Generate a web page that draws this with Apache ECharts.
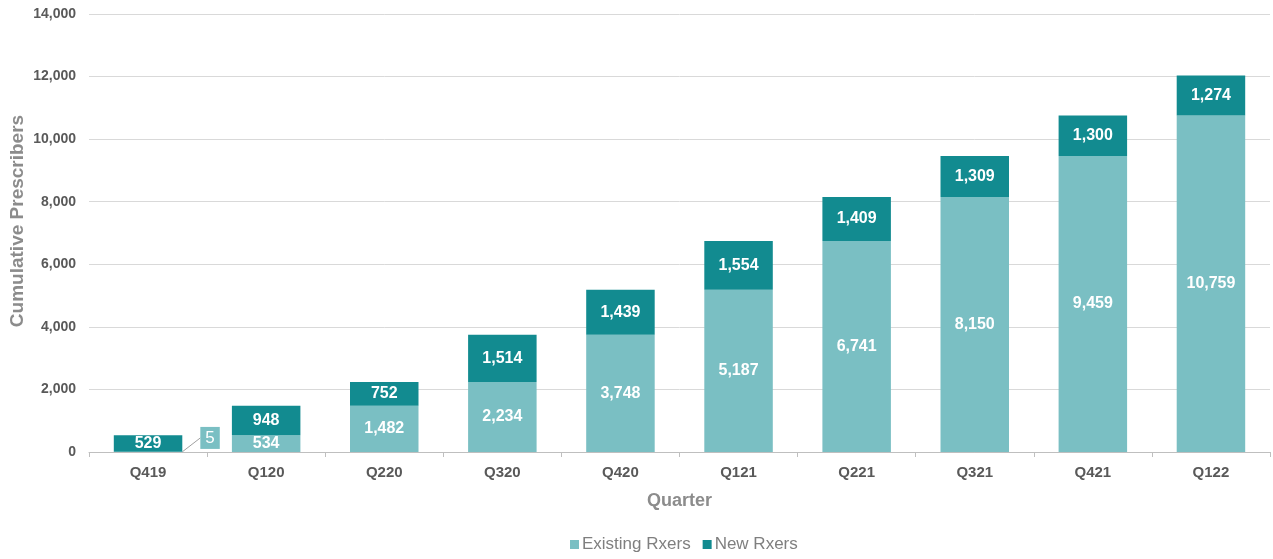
<!DOCTYPE html>
<html><head><meta charset="utf-8">
<script src="https://cdn.jsdelivr.net/npm/echarts@6/dist/echarts.min.js"></script>
<style>html,body{margin:0;padding:0;background:#fff}#c{width:1273px;height:559px}</style>
</head><body><div id="c"></div>
<script>
const quarters = ['Q419','Q120','Q220','Q320','Q420','Q121','Q221','Q321','Q421','Q122'];
const existingRxers = [5,534,1482,2234,3748,5187,6741,8150,9459,10759];
const newRxers = [529,948,752,1514,1439,1554,1409,1309,1300,1274];
const yTicks = {min:0, max:14000, interval:2000};

const FF = 'Liberation Sans, Arial, sans-serif';
const fmt = v => Number(v).toLocaleString('en-US');
const chart = echarts.init(document.getElementById('c'));
const labelBase = {show:true, position:'inside', color:'#fff', fontWeight:'bold', fontSize:16, fontFamily:FF, formatter:p=>fmt(p.value)};
const existingData = existingRxers.map((v,i)=> i===0 ? {
  value:v,
  label:{show:true, position:'inside', backgroundColor:'#7ABFC3', color:'#fff', padding:[3,5,2,5], fontSize:17, fontWeight:'normal'},
  labelLine:{show:true, lineStyle:{color:'#a0a0a0', width:1}}
} : v);
chart.setOption({
  animation:false,
  textStyle:{fontFamily:FF},
  grid:{left:89, right:3, top:14, bottom:107, outerBoundsMode:'none', containLabel:false},
  legend:{bottom:1, left:565, itemWidth:9, itemHeight:9, itemGap:12,
    icon:'rect', textStyle:{color:'#7f7f7f', fontSize:17, padding:[0,0,0,-2]}, data:['Existing Rxers','New Rxers']},
  graphic:[{type:'text', x:18, y:221, rotation:Math.PI/2,
    style:{text:'Cumulative Prescribers', fill:'#8c8c8c', font:'bold 19px ' + FF, textAlign:'center', textVerticalAlign:'middle'}}],
  xAxis:{type:'category', data:quarters, name:'Quarter', nameLocation:'middle', nameGap:40,
    nameTextStyle:{color:'#8c8c8c', fontSize:18, fontWeight:'bold'},
    axisLine:{lineStyle:{color:'#bfbfbf'}}, axisTick:{show:true, length:5, lineStyle:{color:'#bfbfbf'}},
    axisLabel:{color:'#595959', fontSize:15, fontWeight:'bold', margin:13}},
  yAxis:{type:'value', min:yTicks.min, max:yTicks.max, interval:yTicks.interval,
    axisLine:{show:false}, axisTick:{show:false},
    axisLabel:{color:'#595959', fontSize:14, fontWeight:'bold', margin:13, formatter:v=>fmt(v)},
    splitLine:{lineStyle:{color:'#d9d9d9'}}},
  series:[
    {name:'Existing Rxers', type:'bar', stack:'a', barWidth:'58%', itemStyle:{color:'#7ABFC3'},
      label:labelBase, data:existingData,
      labelLayout:p=> p.dataIndex===0 ? {dx:62, dy:-14} : {}},
    {name:'New Rxers', type:'bar', stack:'a', barWidth:'58%', itemStyle:{color:'#128B90'},
      label:labelBase, data:newRxers}
  ]
});
</script></body></html>
